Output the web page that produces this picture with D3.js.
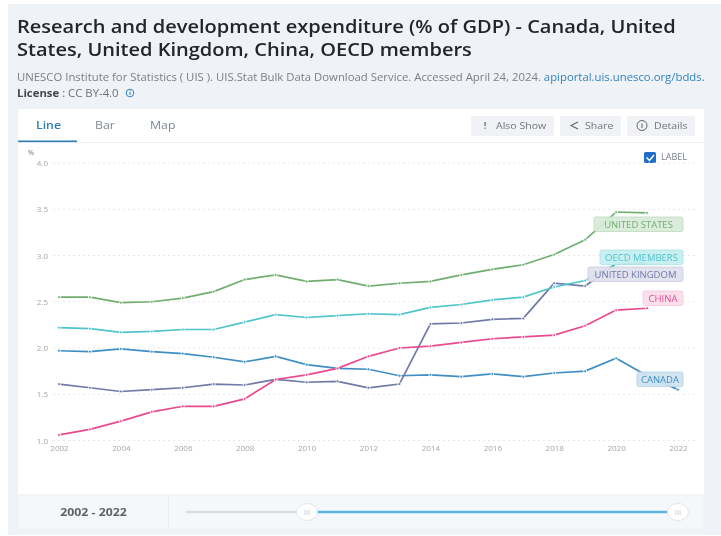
<!DOCTYPE html>
<html>
<head>
<meta charset="utf-8">
<script src="https://cdn.jsdelivr.net/npm/d3@7"></script>
<style>
html, body { margin: 0; padding: 0; background: #fff; overflow: hidden; }
svg { display: block; font-family: "Open Sans", sans-serif; filter: blur(0.45px); }
.axis path { display: none; }
.axis text { font-family: "Open Sans", sans-serif; font-size: 8px; fill: #a3a7ac; }
</style>
</head>
<body>
<div id="chart"></div>
<script>
const years = d3.range(2002, 2023);
const yTicks = [1.0, 1.5, 2.0, 2.5, 3.0, 3.5, 4.0];

const unitedStates = [2.55, 2.55, 2.49, 2.50, 2.54, 2.61, 2.74, 2.79, 2.72, 2.74, 2.67, 2.70, 2.72, 2.79, 2.85, 2.90, 3.01, 3.17, 3.47, 3.46, null];
const oecdMembers = [2.22, 2.21, 2.17, 2.18, 2.20, 2.20, 2.28, 2.36, 2.33, 2.35, 2.37, 2.36, 2.44, 2.47, 2.52, 2.55, 2.66, 2.73, 2.91, 2.91, null];
const unitedKingdom = [1.61, 1.57, 1.53, 1.55, 1.57, 1.61, 1.60, 1.66, 1.63, 1.64, 1.57, 1.61, 2.26, 2.27, 2.31, 2.32, 2.70, 2.67, 2.91, 2.92, null];
const china = [1.06, 1.12, 1.21, 1.31, 1.37, 1.37, 1.45, 1.66, 1.71, 1.78, 1.91, 2.00, 2.02, 2.06, 2.10, 2.12, 2.14, 2.24, 2.41, 2.43, null];
const canada = [1.97, 1.96, 1.99, 1.96, 1.94, 1.90, 1.85, 1.91, 1.82, 1.78, 1.77, 1.70, 1.71, 1.69, 1.72, 1.69, 1.73, 1.75, 1.89, 1.70, 1.55];

const series = [
    { name: "CANADA", values: canada, color: "#3f8fc4" },
    { name: "UNITED KINGDOM", values: unitedKingdom, color: "#6f79a8" },
    { name: "CHINA", values: china, color: "#e8498f" },
    { name: "OECD MEMBERS", values: oecdMembers, color: "#4fc4cc" },
    { name: "UNITED STATES", values: unitedStates, color: "#6fae6f" }
];

const svg = d3.select("#chart").append("svg")
    .attr("width", 721)
    .attr("height", 536);

// the source screenshot was stretched sideways, so its text is wider than tall
function wideText(px, py, sx) {
    return svg.append("text").attr("transform", `translate(${px},${py}) scale(${sx},1)`);
}

// page panel and card
svg.append("rect").attr("x", 8).attr("y", 4).attr("width", 713).attr("height", 531).attr("fill", "#eff2f6");
svg.append("rect").attr("x", 18).attr("y", 109).attr("width", 686).attr("height", 420).attr("fill", "#fff");

const titleLines = [
    "Research and development expenditure (% of GDP) - Canada, United",
    "States, United Kingdom, China, OECD members"
];
titleLines.forEach((t, i) => {
    wideText(17, 33 + i * 22.5, 1.138)
        .attr("font-size", 17.6)
        .attr("font-weight", 600)
        .attr("fill", "#22262b")
        .text(t);
});

const source = wideText(17, 81, 1.147).attr("font-size", 9.9).attr("fill", "#7b8087");
source.append("tspan").text("UNESCO Institute for Statistics ( UIS ). UIS.Stat Bulk Data Download Service. Accessed April 24, 2024. ");
source.append("tspan").attr("fill", "#2f84bd").text("apiportal.uis.unesco.org/bdds.");

const license = wideText(17, 97, 1.147).attr("font-size", 9.9).attr("fill", "#6d7278");
license.append("tspan").attr("font-weight", 700).attr("fill", "#444a50").text("License");
license.append("tspan").text(" : CC BY-4.0");
svg.append("circle").attr("cx", 130).attr("cy", 93).attr("r", 3.8).attr("fill", "none").attr("stroke", "#2f84bd").attr("stroke-width", 1);
svg.append("rect").attr("x", 129.5).attr("y", 92).attr("width", 1).attr("height", 3).attr("fill", "#2f84bd");
svg.append("rect").attr("x", 129.5).attr("y", 90.5).attr("width", 1).attr("height", 1).attr("fill", "#2f84bd");

// tabs
const tabs = [
    { label: "Line", x: 36, color: "#2b7fb8", weight: 600 },
    { label: "Bar", x: 95, color: "#7d8790", weight: 400 },
    { label: "Map", x: 150, color: "#7d8790", weight: 400 }
];
tabs.forEach(d => {
    wideText(d.x, 129, 1.12)
        .attr("font-size", 11)
        .attr("font-weight", d.weight)
        .attr("fill", d.color)
        .text(d.label);
});
svg.append("line").attr("x1", 18).attr("x2", 704).attr("y1", 142.5).attr("y2", 142.5).attr("stroke", "#eef0f2");
svg.append("rect").attr("x", 18).attr("y", 140.5).attr("width", 59).attr("height", 1.6).attr("fill", "#2b7fb8");

const buttons = [
    { label: "Also Show", x: 471, w: 83, tx: 496 },
    { label: "Share", x: 560, w: 61, tx: 585 },
    { label: "Details", x: 627, w: 68, tx: 654 }
];
svg.selectAll(".btn").data(buttons).enter().append("rect")
    .attr("class", "btn")
    .attr("x", d => d.x)
    .attr("y", 116)
    .attr("width", d => d.w)
    .attr("height", 20)
    .attr("rx", 2)
    .attr("fill", "#f0f2f5");
buttons.forEach(d => {
    wideText(d.tx, 129, 1.1)
        .attr("font-size", 9.6)
        .attr("fill", "#71777e")
        .text(d.label);
});
// little button icons
svg.append("rect").attr("x", 484.5).attr("y", 122).attr("width", 1.2).attr("height", 4).attr("fill", "#5f656c");
svg.append("rect").attr("x", 484.5).attr("y", 127.5).attr("width", 1.2).attr("height", 1.3).attr("fill", "#5f656c");
svg.append("path").attr("d", "M578 122 L571 125.5 L578 129").attr("fill", "none").attr("stroke", "#5f656c").attr("stroke-width", 1.1);
svg.append("circle").attr("cx", 642).attr("cy", 125.5).attr("r", 5).attr("fill", "none").attr("stroke", "#5f656c");
svg.append("rect").attr("x", 641.5).attr("y", 123.5).attr("width", 1).attr("height", 4.5).attr("fill", "#5f656c");

// label checkbox
svg.append("rect").attr("x", 644).attr("y", 152).attr("width", 12).attr("height", 11).attr("rx", 1.5).attr("fill", "#1f6fc4");
svg.append("path").attr("d", "M646.5 157.5 L649.5 160.5 L654 155").attr("fill", "none").attr("stroke", "#fff").attr("stroke-width", 1.5);
svg.append("text").attr("x", 661).attr("y", 160).attr("font-size", 9).attr("fill", "#7b8087").text("LABEL");

// chart
const x = d3.scaleLinear().domain([2002, 2022]).range([59, 678]);
const y = d3.scaleLinear().domain([1, 4]).range([440.5, 163]);

svg.append("g")
    .attr("class", "axis")
    .attr("transform", "translate(48,0)")
    .call(d3.axisLeft(y).tickValues(yTicks).tickSize(0).tickPadding(0).tickFormat(d3.format(".1f")))
    .call(g => g.selectAll("text").attr("dy", "0.32em"));

svg.append("g")
    .selectAll("line")
    .data(yTicks)
    .enter().append("line")
    .attr("x1", 53)
    .attr("x2", 697)
    .attr("y1", d => y(d))
    .attr("y2", d => y(d))
    .attr("stroke", "#dfe2e5")
    .attr("stroke-width", 0.8)
    .attr("stroke-dasharray", "2,3");

svg.append("text").attr("x", 28).attr("y", 155).attr("font-size", 7).attr("font-weight", 600).attr("fill", "#8b9096").text("%");

svg.append("g")
    .attr("class", "axis")
    .attr("transform", "translate(0,445)")
    .call(d3.axisBottom(x).tickValues(years.filter(d => d % 2 === 0)).tickSize(0).tickPadding(0).tickFormat(d3.format("d")));

const line = d3.line()
    .defined(d => d.value !== null)
    .x(d => x(d.year))
    .y(d => y(d.value));

series.forEach(s => {
    const points = years.map((year, i) => ({ year: year, value: s.values[i] }));
    svg.append("path")
        .datum(points)
        .attr("fill", "none")
        .attr("stroke", s.color)
        .attr("stroke-width", 1.7)
        .attr("d", line);
    svg.append("g")
        .selectAll("circle")
        .data(points.filter(d => d.value !== null))
        .enter().append("circle")
        .attr("cx", d => x(d.year))
        .attr("cy", d => y(d.value))
        .attr("r", 1.5)
        .attr("fill", s.color)
        .attr("stroke", "#fff")
        .attr("stroke-width", 0.9);
});

// end labels, right aligned at the same edge
const endLabels = [
    { name: "UNITED STATES", top: 217, w: 89, fill: "#d9ead9", stroke: "#bcdcbc", color: "#6fae6f" },
    { name: "OECD MEMBERS", top: 250, w: 83, fill: "#c4eef0", stroke: "#a9e3e7", color: "#4fc4cc" },
    { name: "UNITED KINGDOM", top: 267, w: 95, fill: "#dfe1ee", stroke: "#c8cce0", color: "#6f79a8" },
    { name: "CHINA", top: 291, w: 40, fill: "#fbdde9", stroke: "#f6c6da", color: "#e8498f" },
    { name: "CANADA", top: 372, w: 46, fill: "#cfe2f0", stroke: "#b3d1e6", color: "#3f8fc4" }
];
endLabels.forEach(d => {
    svg.append("rect")
        .attr("x", 683 - d.w)
        .attr("y", d.top)
        .attr("width", d.w)
        .attr("height", 14.5)
        .attr("rx", 2)
        .attr("fill", d.fill)
        .attr("fill-opacity", 0.92)
        .attr("stroke", d.stroke)
        .attr("stroke-width", 0.8);
    wideText(683 - d.w / 2, d.top + 10.5, 1.08)
        .attr("text-anchor", "middle")
        .attr("font-size", 8.8)
        .attr("fill", d.color)
        .text(d.name);
});

// range slider strip
svg.append("rect").attr("x", 18).attr("y", 495).attr("width", 686).attr("height", 34).attr("fill", "#f5f8fa").attr("stroke", "#eceff2");
svg.append("line").attr("x1", 168.5).attr("x2", 168.5).attr("y1", 495).attr("y2", 529).attr("stroke", "#eceff2");
wideText(93.5, 516, 1.12).attr("text-anchor", "middle").attr("font-size", 11).attr("font-weight", 700).attr("fill", "#5e6368").text("2002 - 2022");
svg.append("line").attr("x1", 186).attr("x2", 307).attr("y1", 512).attr("y2", 512).attr("stroke", "#d9dee2").attr("stroke-width", 2.5);
svg.append("line").attr("x1", 307).attr("x2", 678).attr("y1", 512).attr("y2", 512).attr("stroke", "#5db5e6").attr("stroke-width", 2.5);
[307, 678].forEach(cx => {
    svg.append("ellipse").attr("cx", cx).attr("cy", 512).attr("rx", 10.5).attr("ry", 8.5).attr("fill", "#fff").attr("stroke", "#e3e7ea");
    svg.append("text").attr("x", cx).attr("y", 515).attr("text-anchor", "middle").attr("font-size", 8).attr("fill", "#c5cace").text("III");
});
</script>
</body>
</html>
